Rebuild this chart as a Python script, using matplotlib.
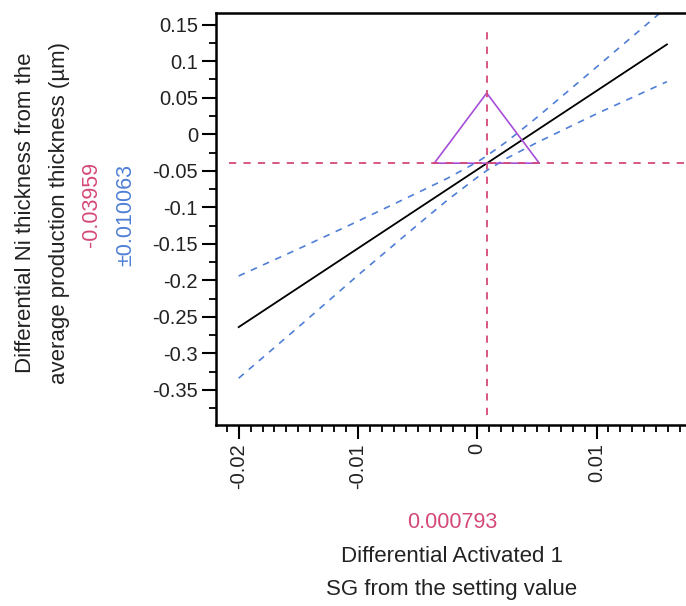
import matplotlib
matplotlib.use('Agg')
import matplotlib.pyplot as plt
from matplotlib.ticker import MultipleLocator

plt.rcParams['font.family'] = ['Liberation Sans', 'DejaVu Sans']

# current setting / prediction
x_set = 0.000793
y_pred = -0.03959
y_ci = 0.010063

# prediction line (end points)
line_x = [-0.02, 0.0159]
line_y = [-0.264, 0.123]

# confidence band read at a few x values
band_x = [-0.02, -0.015, -0.01, -0.005, -0.0025, 0.0, 0.000793, 0.0025, 0.005, 0.01, 0.0159]
band_hi = [-0.194, -0.157, -0.119, -0.080, -0.0603, -0.038, -0.0295, -0.0097, 0.023, 0.092, 0.174]
band_lo = [-0.334, -0.264, -0.193, -0.124, -0.0901, -0.059, -0.0497, -0.0327, -0.0114, 0.028, 0.072]

# triangle marker
tri_x = [-0.0036, 0.000793, 0.0052, -0.0036]
tri_y = [-0.03959, 0.0564, -0.03959, -0.03959]

red = '#d4497a'
blue = '#4f7fd6'

fig = plt.figure(figsize=(6.86, 6.06), dpi=100)
ax = fig.add_axes([216/686, 1-425/606, 1-216/686, (425-13)/606])

ax.plot(line_x, line_y, color='black', lw=1.3)
ax.plot(band_x, band_hi, color=blue, lw=1.2, dashes=(4, 4))
ax.plot(band_x, band_lo, color=blue, lw=1.2, dashes=(4, 4))
ax.plot(tri_x, tri_y, color='#a64fd6', lw=1.2)

ax.set_xlim(-0.0219, 0.0175)
ax.set_ylim(-0.398, 0.166)

ax.axvline(x_set, ymin=0.025, ymax=0.972, color=red, lw=1.3, dashes=(4, 4))
ax.axhline(y_pred, xmin=0.028, xmax=1, color=red, lw=1.3, dashes=(4, 4))

ax.xaxis.set_major_locator(MultipleLocator(0.01))
ax.xaxis.set_minor_locator(MultipleLocator(0.001))
ax.yaxis.set_major_locator(MultipleLocator(0.05))
ax.yaxis.set_minor_locator(MultipleLocator(0.025))
ax.set_xticks([-0.02, -0.01, 0, 0.01])
ax.set_xticklabels(['-0.02', '-0.01', '0', '0.01'], rotation=90)
ax.set_yticks([0.15, 0.1, 0.05, 0, -0.05, -0.1, -0.15, -0.2, -0.25, -0.3, -0.35])
ax.set_yticklabels(['0.15', '0.1', '0.05', '0', '-0.05', '-0.1', '-0.15', '-0.2', '-0.25', '-0.3', '-0.35'])

ax.tick_params(which='major', length=10, width=1.5, labelsize=14.5, colors='black', labelcolor='#222222', pad=3)
ax.tick_params(which='minor', length=5, width=1.3)
ax.spines['right'].set_visible(False)
for s in ['left', 'bottom', 'top']:
    ax.spines[s].set_linewidth(1.8)

# y axis labels
fig.text(26/686, 1-213/606, 'Differential Ni thickness from the', rotation=90,
         ha='center', va='center', fontsize=16, color='#222222')
fig.text(60/686, 1-213/606, 'average production thickness (\u00b5m)', rotation=90,
         ha='center', va='center', fontsize=16, color='#222222')
fig.text(92/686, 1-205/606, '-0.03959', rotation=90, ha='center', va='center',
         fontsize=15.5, color=red)
fig.text(126/686, 1-215/606, '\u00b10.010063', rotation=90, ha='center', va='center',
         fontsize=15.5, color=blue)

# x axis labels
fig.text(452/686, 1-522/606, '0.000793', ha='center', va='center', fontsize=15.5, color=red)
fig.text(452/686, 1-556/606, 'Differential Activated 1', ha='center', va='center',
         fontsize=16, color='#222222')
fig.text(452/686, 1-590/606, 'SG from the setting value', ha='center', va='center',
         fontsize=16, color='#222222')

fig.savefig('out.png', dpi=100)
